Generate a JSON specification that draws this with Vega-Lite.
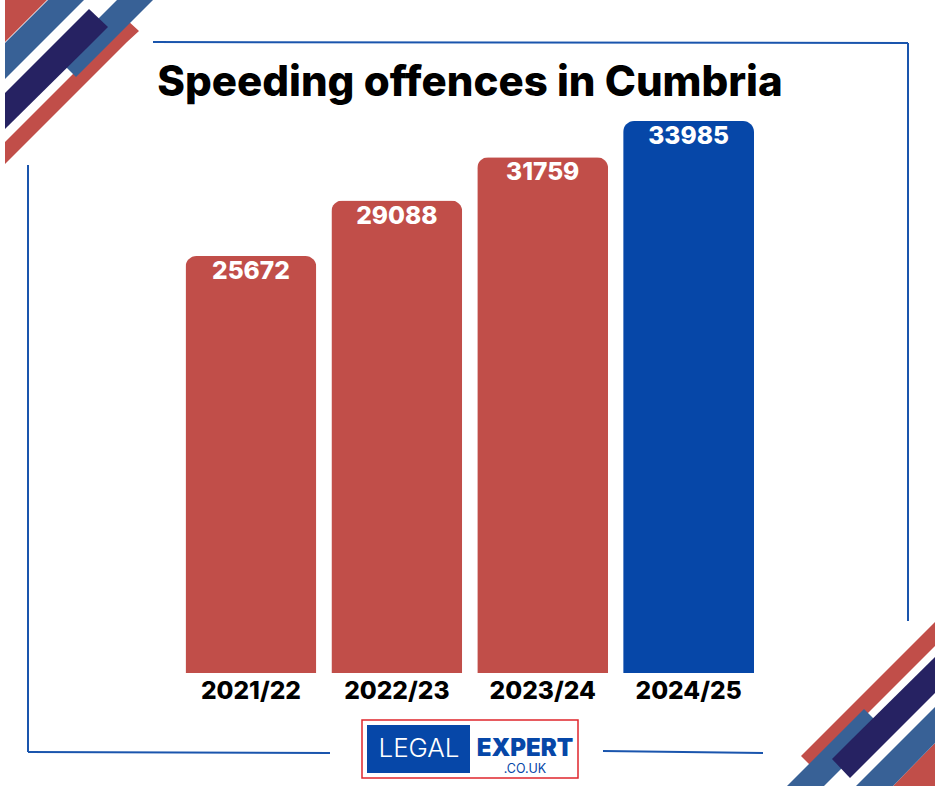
{
  "$schema": "https://vega.github.io/schema/vega-lite/v6.json",
  "width": 940,
  "height": 788,
  "padding": 0,
  "autosize": {"type": "fit", "contains": "padding"},
  "background": "#ffffff",
  "config": {"view": {"stroke": null}},
  "datasets": {
    "offences": [
      {"year": "2021/22", "count": 25672},
      {"year": "2022/23", "count": 29088},
      {"year": "2023/24", "count": 31759},
      {"year": "2024/25", "count": 33985}
    ],
    "corners": [
      {"shape": "a", "kind": "red", "x": 5, "y": 0, "y2": 42},
      {"shape": "a", "kind": "red", "x": 47, "y": 0, "y2": 0},
      {"shape": "e", "kind": "red", "x": 5, "y": 142, "y2": 164},
      {"shape": "e", "kind": "red", "x": 127, "y": 20, "y2": 42},
      {"shape": "e", "kind": "red", "x": 139, "y": 31, "y2": 31},
      {"shape": "f", "kind": "red", "x": 893, "y": 786, "y2": 786},
      {"shape": "f", "kind": "red", "x": 935, "y": 743, "y2": 786},
      {"shape": "j", "kind": "red", "x": 801, "y": 756, "y2": 756},
      {"shape": "j", "kind": "red", "x": 813, "y": 744, "y2": 768},
      {"shape": "j", "kind": "red", "x": 935, "y": 622, "y2": 646},
      {"shape": "b", "kind": "steel", "x": 5, "y": 43, "y2": 79},
      {"shape": "b", "kind": "steel", "x": 48, "y": 0, "y2": 36},
      {"shape": "b", "kind": "steel", "x": 84, "y": 0, "y2": 0},
      {"shape": "d", "kind": "steel", "x": 58, "y": 59, "y2": 59},
      {"shape": "d", "kind": "steel", "x": 76, "y": 41, "y2": 77},
      {"shape": "d", "kind": "steel", "x": 117, "y": 0, "y2": 36},
      {"shape": "d", "kind": "steel", "x": 153, "y": 0, "y2": 0},
      {"shape": "g", "kind": "steel", "x": 856, "y": 786, "y2": 786},
      {"shape": "g", "kind": "steel", "x": 893, "y": 749, "y2": 786},
      {"shape": "g", "kind": "steel", "x": 935, "y": 707, "y2": 743},
      {"shape": "i", "kind": "steel", "x": 787, "y": 786, "y2": 786},
      {"shape": "i", "kind": "steel", "x": 824, "y": 749, "y2": 786},
      {"shape": "i", "kind": "steel", "x": 864, "y": 709, "y2": 746},
      {"shape": "i", "kind": "steel", "x": 882.5, "y": 727.5, "y2": 727.5},
      {"shape": "c", "kind": "navy", "x": 5, "y": 93, "y2": 129},
      {"shape": "c", "kind": "navy", "x": 89, "y": 9, "y2": 46},
      {"shape": "c", "kind": "navy", "x": 108, "y": 27, "y2": 27},
      {"shape": "h", "kind": "navy", "x": 832, "y": 759, "y2": 759},
      {"shape": "h", "kind": "navy", "x": 850, "y": 741, "y2": 778},
      {"shape": "h", "kind": "navy", "x": 935, "y": 657, "y2": 693}
    ],
    "frame": [
      {"seg": "top", "x": 153, "y": 42},
      {"seg": "top", "x": 908, "y": 43},
      {"seg": "right", "x": 908, "y": 43},
      {"seg": "right", "x": 908, "y": 621},
      {"seg": "left", "x": 28, "y": 165},
      {"seg": "left", "x": 28, "y": 752},
      {"seg": "bottomleft", "x": 28, "y": 752},
      {"seg": "bottomleft", "x": 330, "y": 753},
      {"seg": "bottomright", "x": 603, "y": 751},
      {"seg": "bottomright", "x": 763, "y": 753}
    ]
  },
  "resolve": {"scale": {"x": "independent", "y": "independent", "color": "independent"}},
  "layer": [
    {
      "encoding": {
        "x": {"field": "x", "type": "quantitative", "axis": null, "scale": {"domain": [0, 940], "nice": false, "zero": false}},
        "y": {"field": "y", "type": "quantitative", "axis": null, "scale": {"domain": [0, 788], "nice": false, "zero": false, "reverse": true}}
      },
      "layer": [
        {
          "data": {"name": "corners"},
          "mark": {"type": "area", "interpolate": "linear", "opacity": 1},
          "encoding": {
            "y2": {"field": "y2"},
            "detail": {"field": "shape"},
            "color": {"field": "kind", "type": "nominal", "legend": null, "scale": {"domain": ["red", "steel", "navy"], "range": ["#c14e49", "#386196", "#262262"]}}
          }
        },
        {
          "data": {"name": "frame"},
          "mark": {"type": "line", "color": "#1a55ad", "strokeWidth": 2},
          "encoding": {"detail": {"field": "seg"}}
        },
        {
          "data": {"values": [{"x": 362, "x2": 578, "y": 720, "y2": 778}]},
          "mark": {"type": "rect", "fill": "#ffffff", "stroke": "#e0262c", "strokeWidth": 1.5},
          "encoding": {"x2": {"field": "x2"}, "y2": {"field": "y2"}}
        },
        {
          "data": {"values": [{"x": 367, "x2": 470, "y": 725, "y2": 773}]},
          "mark": {"type": "rect", "fill": "#0647a8"},
          "encoding": {"x2": {"field": "x2"}, "y2": {"field": "y2"}}
        },
        {
          "data": {"values": [{"label": "Speeding offences in Cumbria", "x": 470, "y": 83}]},
          "mark": {"type": "text", "font": "Inter", "fontWeight": 800, "fontSize": 42, "color": "#000000", "align": "center", "baseline": "middle"},
          "encoding": {"text": {"field": "label"}}
        },
        {
          "data": {"values": [{"label": "LEGAL", "x": 419, "y": 749}]},
          "mark": {"type": "text", "font": "Inter", "fontWeight": 300, "fontSize": 26, "color": "#ffffff", "align": "center", "baseline": "middle"},
          "encoding": {"text": {"field": "label"}}
        },
        {
          "data": {"values": [{"label": "EXPERT", "x": 525, "y": 749}]},
          "mark": {"type": "text", "font": "Inter", "fontWeight": 900, "fontSize": 24, "color": "#0647a8", "align": "center", "baseline": "middle"},
          "encoding": {"text": {"field": "label"}}
        },
        {
          "data": {"values": [{"label": ".CO.UK", "x": 525, "y": 769}]},
          "mark": {"type": "text", "font": "Inter", "fontSize": 12.5, "color": "#0647a8", "align": "center", "baseline": "middle"},
          "encoding": {"text": {"field": "label"}}
        }
      ]
    },
    {
      "data": {"name": "offences"},
      "encoding": {
        "x": {
          "field": "year",
          "type": "ordinal",
          "title": null,
          "scale": {"range": [185.5, 754], "paddingInner": 0.103, "paddingOuter": 0},
          "axis": {"orient": "bottom", "offset": -115, "domain": false, "ticks": false, "labelAngle": 0, "labelPadding": 6, "labelFont": "Inter", "labelFontWeight": 800, "labelFontSize": 24.5, "labelColor": "#000000", "grid": false}
        },
        "y": {"field": "count", "type": "quantitative", "axis": null, "scale": {"domain": [0, 33985], "range": [673, 121], "nice": false}}
      },
      "layer": [
        {
          "mark": {"type": "bar", "cornerRadiusTopLeft": 11, "cornerRadiusTopRight": 11},
          "encoding": {
            "color": {"condition": {"test": "datum.year === '2024/25'", "value": "#0647a8"}, "value": "#c14e49"}
          }
        },
        {
          "mark": {"type": "text", "font": "Inter", "fontWeight": 800, "fontSize": 24.5, "color": "#ffffff", "baseline": "middle", "dy": 16},
          "encoding": {"text": {"field": "count", "type": "quantitative", "format": "d"}}
        }
      ]
    }
  ]
}
